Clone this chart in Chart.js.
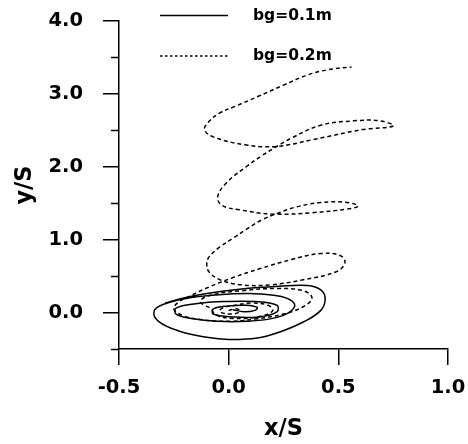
<!DOCTYPE html>
<html>
<head>
<meta charset="utf-8">
<script src="https://cdn.jsdelivr.net/npm/chart.js@4/dist/chart.umd.min.js"></script>
<style>
  html, body { margin: 0; padding: 0; background: #ffffff; }
  canvas { display: block; }
</style>
</head>
<body>
<canvas id="c" width="468" height="444"></canvas>
<script>
// ---- data ----
const seriesLabels = ['bg=0.1m', 'bg=0.2m'];

const solidX = [0.02, 0.07, 0.12, 0.13, 0.08, 0.00, -0.07, -0.07, 0.02, 0.14, 0.22, 0.22, 0.12, -0.02, -0.15, -0.24, -0.24, -0.17, -0.05, 0.08, 0.20, 0.28, 0.30, 0.24, 0.10, -0.06, -0.20, -0.30, -0.34, -0.32, -0.22, -0.10, 0.00, 0.13, 0.23, 0.34, 0.42, 0.44, 0.42, 0.36, 0.23, 0.05, -0.10, -0.22, -0.29];
const solidY = [0.04, 0.01, 0.03, 0.07, 0.10, 0.09, 0.05, -0.02, -0.06, -0.06, 0.01, 0.10, 0.15, 0.15, 0.12, 0.06, -0.02, -0.08, -0.12, -0.12, -0.08, 0.01, 0.12, 0.22, 0.26, 0.24, 0.19, 0.11, 0.02, -0.12, -0.26, -0.34, -0.37, -0.35, -0.27, -0.13, 0.03, 0.19, 0.31, 0.37, 0.36, 0.32, 0.26, 0.19, 0.13];

const dashX = [0.00, 0.04, 0.05, 0.01, -0.04, -0.03, 0.03, 0.10, 0.18, 0.20, 0.13, 0.02, -0.06, -0.08, -0.13, -0.08, 0.06, 0.22, 0.34, 0.38, 0.34, 0.25, 0.12, 0.00, -0.12, -0.21, -0.25, -0.23, -0.18, -0.09, 0.02, 0.14, 0.29, 0.42, 0.51, 0.53, 0.49, 0.34, 0.19, 0.06, -0.04, -0.09, -0.10, -0.09, -0.04, 0.02, 0.08, 0.15, 0.23, 0.31, 0.42, 0.54, 0.59, 0.54, 0.38, 0.20, 0.05, -0.03, -0.05, -0.01, 0.08, 0.15, 0.22, 0.29, 0.42, 0.57, 0.69, 0.75, 0.61, 0.38, 0.22, 0.08, -0.07, -0.11, -0.09, -0.04, 0.03, 0.13, 0.25, 0.36, 0.45, 0.56];
const dashY = [0.03, 0.05, 0.01, -0.02, 0.01, 0.06, 0.10, 0.13, 0.10, 0.02, -0.06, -0.08, -0.03, 0.05, 0.15, 0.24, 0.30, 0.33, 0.30, 0.20, 0.08, -0.02, -0.09, -0.12, -0.10, -0.04, 0.05, 0.14, 0.22, 0.35, 0.48, 0.60, 0.73, 0.81, 0.78, 0.68, 0.56, 0.45, 0.38, 0.38, 0.45, 0.56, 0.66, 0.76, 0.90, 1.02, 1.14, 1.27, 1.37, 1.45, 1.51, 1.51, 1.46, 1.42, 1.37, 1.35, 1.41, 1.47, 1.59, 1.78, 2.00, 2.15, 2.28, 2.40, 2.57, 2.63, 2.63, 2.56, 2.51, 2.37, 2.28, 2.30, 2.41, 2.51, 2.62, 2.74, 2.83, 2.96, 3.12, 3.26, 3.33, 3.37];

const xTicks = [-0.5, 0.0, 0.5, 1.0];
const xTickLabels = ['-0.5', '0.0', '0.5', '1.0'];
const yTicks = [0, 1, 2, 3, 4];
const yTickLabels = ['0.0', '1.0', '2.0', '3.0', '4.0'];
const yMinorTicks = [-0.5, 0.5, 1.5, 2.5, 3.5];

// ---- build ----
function pts(xs, ys) { return xs.map((x, i) => ({ x: x, y: ys[i] })); }

const minorTicksPlugin = {
  id: 'minorTicks',
  afterDraw(chart) {
    const ctx = chart.ctx;
    const ys = chart.scales.y;
    const left = chart.chartArea.left;
    ctx.save();
    ctx.strokeStyle = '#000';
    ctx.lineWidth = 1.5;
    yMinorTicks.forEach(v => {
      const py = Math.round(ys.getPixelForValue(v)) + 0.5;
      ctx.beginPath();
      ctx.moveTo(left - 8, py);
      ctx.lineTo(left, py);
      ctx.stroke();
    });
    ctx.restore();
  }
};

const legendPlugin = {
  id: 'customLegend',
  afterDraw(chart) {
    const ctx = chart.ctx;
    const ca = chart.chartArea;
    ctx.save();
    chart.data.datasets.forEach((ds, i) => {
      const y = 15.5 + i * 40.5;
      ctx.beginPath();
      ctx.strokeStyle = ds.borderColor;
      ctx.lineWidth = 1.4;
      ctx.setLineDash(ds.borderDash && ds.borderDash.length ? [2.5, 2.5] : []);
      ctx.moveTo(ca.left + 41, y);
      ctx.lineTo(ca.left + 109, y);
      ctx.stroke();
      ctx.setLineDash([]);
      ctx.fillStyle = '#000';
      ctx.font = 'bold 15.5px "DejaVu Sans"';
      ctx.textAlign = 'left';
      ctx.textBaseline = 'middle';
      ctx.fillText(ds.label, ca.left + 134, y);
    });
    ctx.restore();
  }
};

new Chart(document.getElementById('c'), {
  type: 'scatter',
  data: {
    datasets: [
      {
        label: seriesLabels[0],
        data: pts(solidX, solidY),
        showLine: true,
        borderColor: '#000',
        borderWidth: 1.5,
        pointRadius: 0,
        tension: 0.4,
        fill: false
      },
      {
        label: seriesLabels[1],
        data: pts(dashX, dashY),
        showLine: true,
        borderColor: '#000',
        borderWidth: 1.5,
        borderDash: [4, 3],
        pointRadius: 0,
        tension: 0.4,
        fill: false
      }
    ]
  },
  options: {
    responsive: false,
    animation: false,
    devicePixelRatio: 1,
    layout: { padding: { top: 21, right: 20, left: 0, bottom: 0 } },
    plugins: { legend: { display: false }, tooltip: { enabled: false } },
    scales: {
      x: {
        type: 'linear',
        min: -0.5,
        max: 1.0,
        afterBuildTicks(scale) { scale.ticks = xTicks.map(v => ({ value: v })); },
        afterFit(scale) { scale.height = 95; scale.paddingLeft = 0; scale.paddingRight = 0; },
        grid: { drawOnChartArea: false, drawTicks: true, tickLength: 16, color: '#000', lineWidth: 1.5 },
        border: { display: true, color: '#000', width: 1.5 },
        ticks: {
          color: '#000',
          padding: 11.5,
          autoSkip: false,
          maxRotation: 0,
          font: { family: 'DejaVu Sans', weight: 'bold', size: 19.5 },
          callback: (v, i) => xTickLabels[i]
        },
        title: {
          display: true,
          text: 'x/S',
          color: '#000',
          font: { family: 'DejaVu Sans', weight: 'bold', size: 22.5 },
          padding: { top: 0, bottom: 1.5 }
        }
      },
      y: {
        type: 'linear',
        min: -0.5,
        max: 4.0,
        afterBuildTicks(scale) { scale.ticks = yTicks.map(v => ({ value: v })); },
        afterFit(scale) { scale.width = 119; scale.paddingTop = 0; scale.paddingBottom = 0; },
        grid: { drawOnChartArea: false, drawTicks: true, tickLength: 16, color: '#000', lineWidth: 1.5 },
        border: { display: true, color: '#000', width: 1.5 },
        ticks: {
          color: '#000',
          padding: 20,
          autoSkip: false,
          font: { family: 'DejaVu Sans', weight: 'bold', size: 19.5 },
          callback: (v, i) => yTickLabels[i]
        },
        title: {
          display: true,
          text: 'y/S',
          color: '#000',
          font: { family: 'DejaVu Sans', weight: 'bold', size: 22.5 },
          padding: { top: 11.5, bottom: 0 }
        }
      }
    }
  },
  plugins: [minorTicksPlugin, legendPlugin]
});
</script>
</body>
</html>
